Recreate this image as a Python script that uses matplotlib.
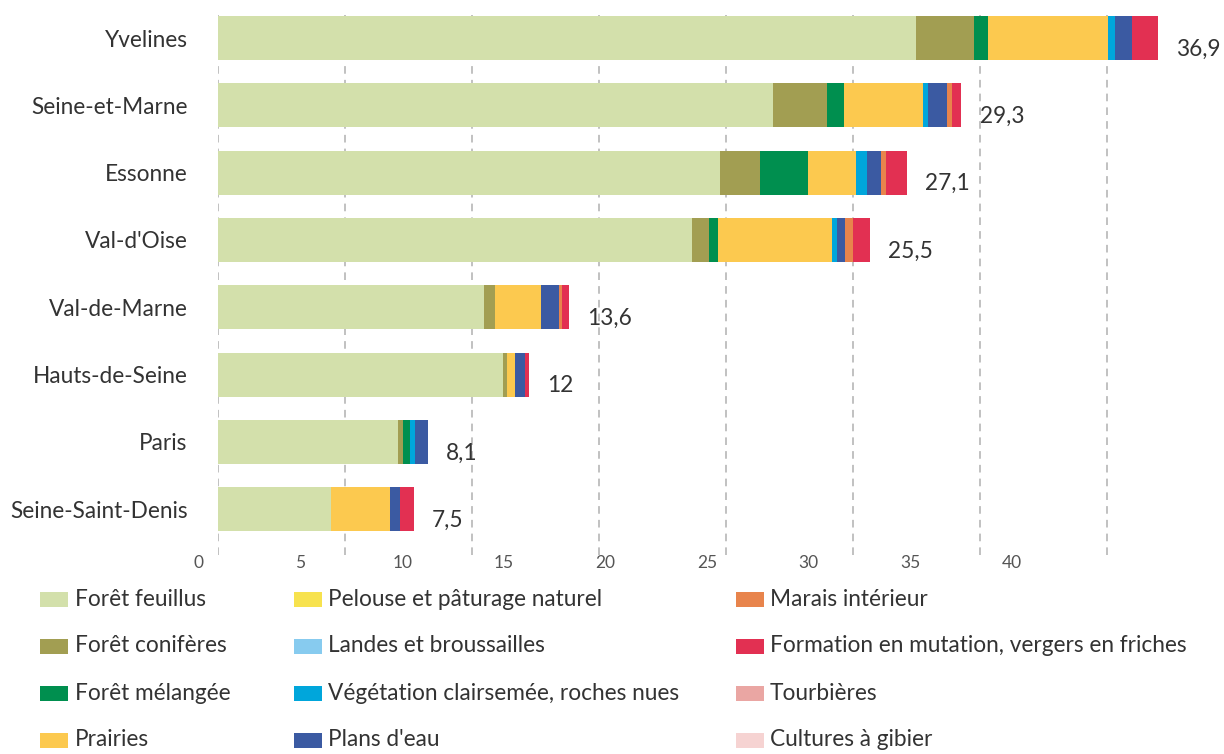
import matplotlib
matplotlib.use("Agg")
import matplotlib.pyplot as plt
from matplotlib.patches import Rectangle
import numpy as np

plt.rcParams['font.family'] = ['Lato', 'DejaVu Sans']

departements = ["Yvelines", "Seine-et-Marne", "Essonne", "Val-d'Oise",
                "Val-de-Marne", "Hauts-de-Seine", "Paris", "Seine-Saint-Denis"]
totaux = ["36,9", "29,3", "27,1", "25,5", "13,6", "12", "8,1", "7,5"]

categories = ["Forêt feuillus", "Forêt conifères", "Forêt mélangée", "Prairies",
              "Pelouse et pâturage naturel", "Landes et broussailles",
              "Végétation clairsemée, roches nues", "Plans d'eau",
              "Marais intérieur", "Formation en mutation, vergers en friches",
              "Tourbières", "Cultures à gibier"]
couleurs = ["#d3e0ab", "#a29e52", "#008f4f", "#fcc94f", "#f7e24e", "#87cbef",
            "#00a6db", "#3b5aa2", "#e8844c", "#e23052", "#eaa6a3", "#f6d3d2"]

foret_feuillus  = [27.48, 21.86, 19.76, 18.67, 10.48, 11.21, 7.07, 4.46]
foret_coniferes = [2.30, 2.13, 1.57, 0.67, 0.42, 0.17, 0.21, 0.00]
foret_melangee  = [0.55, 0.67, 1.89, 0.33, 0.00, 0.00, 0.26, 0.00]
prairies        = [4.71, 3.10, 1.90, 4.50, 1.82, 0.31, 0.00, 2.31]
pelouse         = [0.00, 0.00, 0.00, 0.00, 0.00, 0.00, 0.00, 0.00]
landes          = [0.00, 0.00, 0.00, 0.00, 0.00, 0.00, 0.00, 0.00]
vegetation      = [0.29, 0.21, 0.42, 0.20, 0.00, 0.00, 0.21, 0.00]
plans_eau       = [0.65, 0.72, 0.56, 0.33, 0.70, 0.39, 0.50, 0.41]
marais          = [0.00, 0.21, 0.20, 0.30, 0.11, 0.00, 0.00, 0.00]
formation       = [1.01, 0.37, 0.81, 0.66, 0.28, 0.18, 0.00, 0.54]
tourbieres      = [0.00, 0.00, 0.00, 0.00, 0.00, 0.00, 0.00, 0.00]
cultures        = [0.00, 0.00, 0.00, 0.00, 0.00, 0.00, 0.00, 0.00]

series = [foret_feuillus, foret_coniferes, foret_melangee, prairies, pelouse,
          landes, vegetation, plans_eau, marais, formation, tourbieres, cultures]

grid_ticks = [0, 5, 10, 15, 20, 25, 30, 35]
tick_labels = ["0", "5", "10", "15", "20", "25", "30", "35", "40"]
tick_label_pos = [-0.75, 3.25, 7.25, 11.25, 15.25, 19.25, 23.25, 27.25, 31.25]

W, H = 1224, 754
fig = plt.figure(figsize=(W / 100, H / 100), dpi=100)
ax = fig.add_axes([218 / W, 1 - 555 / H, 1006 / W, 540 / H])

y = np.arange(len(departements))
left = np.zeros(len(departements))
for vals, col in zip(series, couleurs):
    vals = np.array(vals)
    ax.barh(y, vals, left=left, height=0.655, color=col, zorder=3, linewidth=0)
    left += vals

ax.set_xlim(0, 1006 / 25.4)
ax.set_ylim(7.68, -0.342)

for g in grid_ticks:
    ax.axvline(g, color="#b0b0b0", linestyle=(0, (5, 4)), linewidth=1.1, zorder=1)

for s in ax.spines.values():
    s.set_visible(False)
ax.set_xticks([])
ax.set_yticks(y)
ax.set_yticklabels(departements, fontsize=16.3, color="#333333")
ax.tick_params(axis="y", length=0, pad=22)

for yi, tot, lab in zip(y, left, totaux):
    ax.annotate(lab, xy=(tot, yi), xytext=(13, -8), textcoords="offset points",
                ha="left", va="center", fontsize=16.3, color="#333333")

for pos, lab in zip(tick_label_pos, tick_labels):
    ax.text(pos, 7.68 + 8 / 67.3, lab, ha="center", va="center",
            fontsize=12.5, color="#555555", clip_on=False)

# legend
col_sq_x = [40, 294, 736]
col_tx_x = [75, 328, 770]
row_y = [599, 646, 693, 740]
for i, (cat, col) in enumerate(zip(categories, couleurs)):
    c, r = divmod(i, 4)
    yy = row_y[r]
    fig.patches.append(Rectangle((col_sq_x[c] / W, 1 - (yy + 7.5) / H), 28 / W, 15 / H,
                                 transform=fig.transFigure, facecolor=col,
                                 edgecolor="none"))
    fig.text(col_tx_x[c] / W, 1 - yy / H, cat, ha="left", va="center",
             fontsize=16.3, color="#333333")

fig.savefig("out.png", dpi=100, facecolor="white")
